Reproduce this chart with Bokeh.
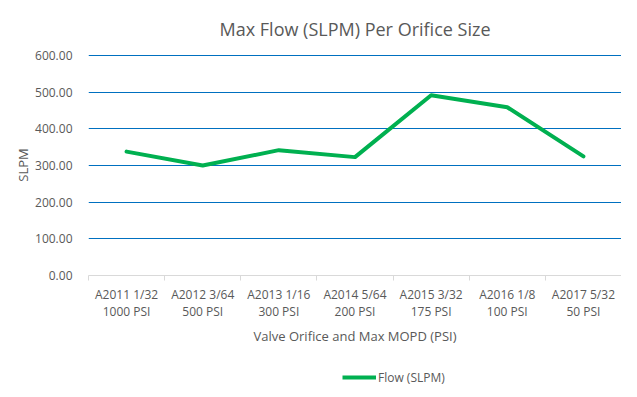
from bokeh.plotting import figure
from bokeh.layouts import column
from bokeh.models import (FixedTicker, NumeralTickFormatter, Range1d, Legend, LegendItem, ColumnDataSource)
from bokeh.embed import file_html
from bokeh.resources import INLINE

categories = ["A2011 1/32\n1000 PSI", "A2012 3/64\n500 PSI", "A2013 1/16\n300 PSI",
              "A2014 5/64\n200 PSI", "A2015 3/32\n175 PSI", "A2016 1/8\n100 PSI",
              "A2017 5/32\n50 PSI"]
flow = [338, 300, 342, 323, 492, 459, 325]
y_ticks = [0, 100, 200, 300, 400, 500, 600]
series_name = "Flow (SLPM)"

xs = list(range(len(categories)))
src = ColumnDataSource(dict(x=xs, y=flow))

FONT = "Open Sans"
GREY = "#595959"
GREEN = "#00B050"

p = figure(frame_width=533, frame_height=221, output_backend="svg", toolbar_location=None,
           x_range=Range1d(-0.5, len(categories) - 0.5), y_range=Range1d(0, 603),
           min_border_left=88, min_border_right=0, min_border_top=40, min_border_bottom=0,
           title="Max Flow (SLPM) Per Orifice Size")
p.outline_line_color = None
p.background_fill_color = "white"
p.border_fill_color = "white"

p.title.align = "center"
p.title.text_font = FONT
p.title.text_font_size = "18px"
p.title.text_font_style = "normal"
p.title.text_color = GREY
p.title.text_line_height = 1.0
p.title.standoff = 28

p.line("x", "y", source=src, line_color=GREEN, line_width=4, line_join="round", line_cap="round")

# x axis
xa = p.xaxis[0]
xa.ticker = FixedTicker(ticks=xs, minor_ticks=[i - 0.5 for i in range(len(categories) + 1)])
xa.major_label_overrides = {i: c for i, c in enumerate(categories)}
xa.major_tick_line_color = None
xa.minor_tick_line_color = "#D9D9D9"
xa.minor_tick_in = 0
xa.minor_tick_out = 5
xa.axis_line_color = "#D9D9D9"
xa.major_label_text_font = FONT
xa.major_label_text_font_size = "12px"
xa.major_label_text_color = GREY
xa.major_label_text_line_height = 1.0
xa.major_label_standoff = 4
xa.axis_label = "Valve Orifice and Max MOPD (PSI)"
xa.axis_label_text_font = FONT
xa.axis_label_text_font_size = "13px"
xa.axis_label_text_font_style = "normal"
xa.axis_label_text_color = GREY
xa.axis_label_standoff = 4

# y axis
ya = p.yaxis[0]
ya.ticker = FixedTicker(ticks=y_ticks)
ya.formatter = NumeralTickFormatter(format="0.00")
ya.axis_line_color = None
ya.major_tick_line_color = None
ya.minor_tick_line_color = None
ya.major_label_text_font = FONT
ya.major_label_text_font_size = "12px"
ya.major_label_text_color = GREY
ya.major_label_standoff = 10
ya.axis_label = "SLPM"
ya.axis_label_text_font = FONT
ya.axis_label_text_font_size = "13px"
ya.axis_label_text_font_style = "normal"
ya.axis_label_text_color = GREY
ya.axis_label_standoff = 0

p.xgrid.grid_line_color = None
p.ygrid.grid_line_color = "#0070C0"
p.ygrid.grid_line_width = 1
p.ygrid.ticker = FixedTicker(ticks=y_ticks[1:])

# legend strip (separate small figure beneath the chart)
lf = figure(width=621, height=40, output_backend="svg", toolbar_location=None,
            x_range=Range1d(0, 1), y_range=Range1d(0, 1),
            min_border=0)
lf.axis.visible = False
lf.grid.visible = False
lf.outline_line_color = None
lr = lf.line(x=[-5, -4], y=[-5, -5], line_color=GREEN, line_width=4)
legend = Legend(items=[LegendItem(label=series_name, renderers=[lr])],
                orientation="horizontal", location=(254, 0),
                label_text_font=FONT, label_text_font_size="12px", label_text_color=GREY,
                glyph_width=34, label_standoff=2, border_line_color=None,
                background_fill_alpha=0, margin=0, padding=4)
lf.add_layout(legend, "center")

layout = column(p, lf, spacing=0)
open("out.html", "w").write(file_html(layout, INLINE))
